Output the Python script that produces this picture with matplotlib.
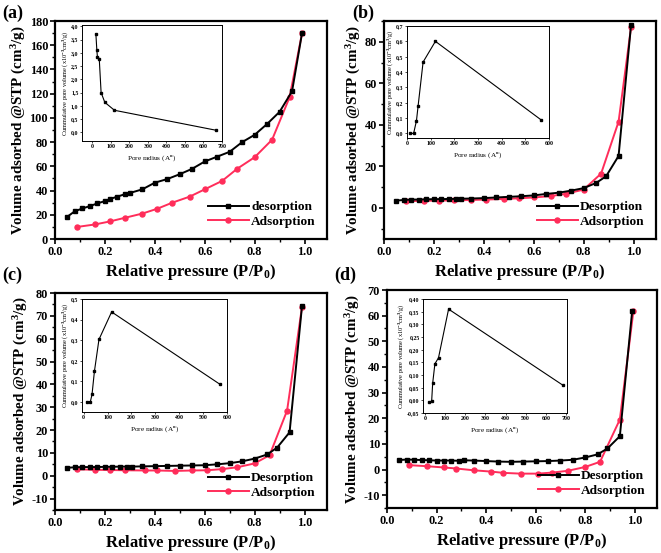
import matplotlib
matplotlib.use("Agg")
import matplotlib.pyplot as plt
from matplotlib.ticker import MultipleLocator, FuncFormatter

plt.rcParams['font.family'] = ['Liberation Serif', 'DejaVu Serif']
plt.rcParams['font.weight'] = 'bold'
plt.rcParams['mathtext.fontset'] = 'custom'
plt.rcParams['mathtext.rm'] = 'Liberation Serif:bold'
plt.rcParams['mathtext.default'] = 'rm'

RED = '#ff2d5a'

# ---------------- data ----------------
# (a)
a_des_x = [0.05, 0.08, 0.11, 0.14, 0.17, 0.20, 0.22, 0.25, 0.28, 0.30, 0.35, 0.40, 0.45, 0.50, 0.55,
           0.60, 0.65, 0.70, 0.75, 0.80, 0.85, 0.90, 0.95, 0.99]
a_des_y = [18.5, 23, 25.2, 27.2, 29.4, 31.3, 33, 35, 37, 38, 41, 46.5, 49.5, 53.5, 58,
           64, 68, 72, 80, 86, 95, 105, 122, 170]
a_ads_x = [0.09, 0.16, 0.22, 0.28, 0.35, 0.41, 0.47, 0.54, 0.60, 0.67, 0.73, 0.80, 0.87, 0.94, 0.99]
a_ads_y = [10, 12, 14.5, 17.5, 21, 25, 30, 35, 41, 48, 58, 67.5, 82, 117, 170]
a_in_x = [20, 25, 28, 38, 48, 68, 120, 665]
a_in_y = [3.70, 3.10, 2.86, 2.78, 1.50, 1.13, 0.83, 0.08]

# (b)
b_des_x = [0.05, 0.08, 0.11, 0.14, 0.17, 0.20, 0.23, 0.26, 0.29, 0.31, 0.35, 0.40, 0.45, 0.50, 0.55,
           0.60, 0.65, 0.70, 0.75, 0.80, 0.85, 0.89, 0.94, 0.99]
b_des_y = [3.5, 3.8, 4.0, 4.0, 4.1, 4.2, 4.2, 4.3, 4.3, 4.4, 4.5, 4.7, 5.0, 5.3, 5.6,
           6.0, 6.7, 7.3, 8.3, 9.5, 12.0, 15.2, 25.0, 88.0]
b_ads_x = [0.09, 0.16, 0.22, 0.28, 0.35, 0.41, 0.48, 0.54, 0.60, 0.67, 0.73, 0.80, 0.87, 0.94, 0.99]
b_ads_y = [3.2, 3.4, 3.5, 3.6, 3.8, 4.0, 4.3, 4.6, 5.0, 5.7, 6.8, 8.8, 16.5, 41.5, 87.0]
b_in_x = [14, 28, 40, 47, 68, 120, 565]
b_in_y = [0.0, 0.0, 0.083, 0.18, 0.465, 0.60, 0.09]

# (c)
c_des_x = b_des_x
c_des_y = [3.5, 3.7, 3.8, 3.8, 3.8, 3.9, 3.9, 4.0, 4.0, 4.0, 4.1, 4.2, 4.3, 4.4, 4.5,
           4.6, 5.0, 5.5, 6.3, 7.5, 9.3, 12.3, 19.0, 74.5]
c_ads_x = [0.09, 0.16, 0.22, 0.28, 0.36, 0.41, 0.48, 0.55, 0.61, 0.67, 0.73, 0.80, 0.86, 0.93, 0.99]
c_ads_y = [2.8, 2.6, 2.5, 2.4, 2.3, 2.3, 2.1, 2.3, 2.4, 2.9, 3.7, 5.4, 9.0, 28.5, 74.0]
c_in_x = [14, 28, 35, 45, 64, 117, 569]
c_in_y = [0.0, 0.0, 0.036, 0.148, 0.303, 0.437, 0.086]

# (d)
d_des_x = b_des_x
d_des_y = [3.7, 3.9, 3.8, 3.7, 3.6, 3.5, 3.5, 3.5, 3.4, 3.6, 3.5, 3.3, 3.1, 3.0, 3.1,
           3.2, 3.3, 3.5, 3.8, 4.7, 5.9, 8.2, 13.0, 62.0]
d_ads_x = [0.09, 0.16, 0.23, 0.28, 0.35, 0.42, 0.47, 0.54, 0.61, 0.665, 0.73, 0.80, 0.86, 0.94, 0.995]
d_ads_y = [1.7, 1.3, 0.8, 0.4, -0.3, -0.8, -1.3, -1.6, -1.6, -1.2, -0.5, 1.0, 3.0, 19.5, 62.0]
d_in_x = [21, 33, 38, 49, 67, 117, 684]
d_in_y = [-0.007, -0.003, 0.067, 0.144, 0.168, 0.36, 0.06]

panel_labels = ['(a)', '(b)', '(c)', '(d)']
des_labels = ['desorption', 'Desorption', 'Desorption', 'Desorption']
ads_label = 'Adsorption'
xlabel = 'Relative pressure (P/P$_0$)'
ylabel = 'Volume adsorbed @STP (cm$^3$/g)'
in_xlabel = 'Pore radius (A$^o$)'
in_ylabel = 'Cummulative pore volume (x10$^{-3}$cm$^3$/g)'

W, H = 661, 553
fig = plt.figure(figsize=(W / 100, H / 100), dpi=100)


def px_axes(l, t, r, b):
    return fig.add_axes([l / W, 1 - b / H, (r - l) / W, (b - t) / H])


main_boxes = [(55, 21, 327, 239), (384, 21, 656, 239), (55, 293, 327, 510), (387, 290, 657, 508)]
inset_boxes = [(82, 25, 222, 141), (407, 26, 549, 138), (82, 299, 227, 412), (423, 299, 567, 413)]
ylims = [(0, 180), (-15, 90), (-15, 80), (-15, 70)]
ymajor = [20, 20, 10, 10]
label_pos = [(2, 13), (352, 13), (2, 275), (334, 275)]

in_xlims = [(-55, 700), (0, 600), (-7, 600), (-10, 705)]
in_ylims = [(-0.33, 4.05), (-0.03, 0.70), (-0.05, 0.50), (-0.05, 0.40)]
in_ystep = [0.5, 0.1, 0.1, 0.05]
in_ydec = [1, 1, 1, 2]

data = [
    (a_des_x, a_des_y, a_ads_x, a_ads_y, a_in_x, a_in_y),
    (b_des_x, b_des_y, b_ads_x, b_ads_y, b_in_x, b_in_y),
    (c_des_x, c_des_y, c_ads_x, c_ads_y, c_in_x, c_in_y),
    (d_des_x, d_des_y, d_ads_x, d_ads_y, d_in_x, d_in_y),
]

for i in range(4):
    dx, dy, ax_, ay_, ix, iy = data[i]
    ax = px_axes(*main_boxes[i])
    ax.plot(dx, dy, color='black', lw=1.4, marker='s', ms=3.4, label=des_labels[i], zorder=3)
    ax.plot(ax_, ay_, color=RED, lw=1.4, marker='o', ms=3.6, label=ads_label, zorder=2)
    ax.set_xlim(0, 1.09)
    ax.set_ylim(*ylims[i])
    ax.xaxis.set_major_locator(MultipleLocator(0.2))
    ax.xaxis.set_minor_locator(MultipleLocator(0.1))
    ax.yaxis.set_major_locator(MultipleLocator(ymajor[i]))
    ax.yaxis.set_minor_locator(MultipleLocator(ymajor[i] / 2))
    ax.xaxis.set_major_formatter(FuncFormatter(lambda v, p: f'{v:.1f}'))
    ax.yaxis.set_major_formatter(FuncFormatter(lambda v, p: f'{v:.0f}'))
    ax.tick_params(which='major', direction='out', length=3.5, width=1.2, labelsize=8.8, pad=1.5)
    ax.tick_params(which='minor', direction='out', length=2, width=1)
    for s in ax.spines.values():
        s.set_linewidth(1.6)
    ax.set_xlabel(xlabel, fontsize=12, fontweight='bold', labelpad=3)
    ax.set_ylabel(ylabel, fontsize=10.8, fontweight='bold', labelpad=1)
    for t in ax.get_xticklabels() + ax.get_yticklabels():
        t.set_fontweight('bold')
    ax.legend(loc='lower right', bbox_to_anchor=(1.0, 0.0), frameon=False,
              handlelength=3.1, handletextpad=0.15, labelspacing=0.15, borderaxespad=0.45,
              prop={'weight': 'bold', 'size': 9.6})
    fig.text(label_pos[i][0] / W, 1 - label_pos[i][1] / H, panel_labels[i], fontsize=13,
             fontweight='bold', va='center', ha='left')

    ins = px_axes(*inset_boxes[i])
    ins.plot(ix, iy, color='black', lw=0.8, marker='s', ms=2.0)
    ins.set_xlim(*in_xlims[i])
    ins.set_ylim(*in_ylims[i])
    ins.xaxis.set_major_locator(MultipleLocator(100))
    ins.yaxis.set_major_locator(MultipleLocator(in_ystep[i]))
    dec = in_ydec[i]
    ins.yaxis.set_major_formatter(FuncFormatter(lambda v, p, d=dec: f'{v:.{d}f}'.replace('.', ',')))
    ins.xaxis.set_major_formatter(FuncFormatter(lambda v, p: f'{v:.0f}'))
    ins.tick_params(direction='out', length=1.5, width=0.5, labelsize=4.2, pad=1)
    for s in ins.spines.values():
        s.set_linewidth(0.7)
    ins.set_xlabel(in_xlabel, fontsize=5.2, fontweight='normal', labelpad=3)
    ins.set_ylabel(in_ylabel, fontsize=4.6, fontweight='normal', labelpad=1)

fig.savefig('out.png', dpi=100)
